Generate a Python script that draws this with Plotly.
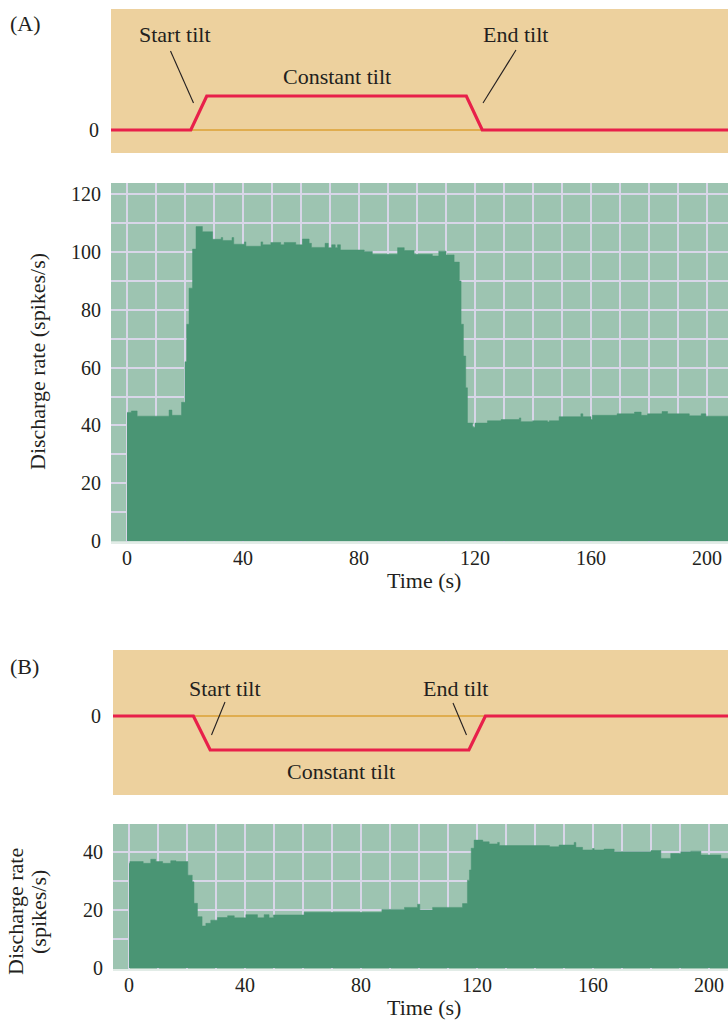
import plotly.graph_objects as go

W, H = 728, 1020

# ---------------- data ----------------
# Panel A: tilt profile (relative units) and discharge rate (spikes/s)
tilt_a_t = [-6, 22, 27.5, 117, 122.5, 208]
tilt_a_v = [0, 0, 1, 1, 0, 0]

time_a = [0, 1.5, 3.5, 14.5, 15.5, 18.8, 20.0, 20.6, 21.4, 22.6, 23.8, 26, 29.5, 32.5,
          33, 36.2, 36.8, 40.5, 41, 46.2, 46.8, 49.6, 53, 54.2, 58.2, 60.5, 62.8, 63.6,
          68.3, 69.4, 70.6, 71.8, 72.6, 73.6, 81.8, 84.6, 93.3, 95.6, 99, 105.3, 107.5,
          110, 112.8, 114.6, 115.2, 116, 116.8, 117.4, 119.2, 120, 124.3, 129, 135.3,
          135.8, 139.8, 145, 145.6, 149, 156.5, 157.2, 160, 160.5, 169, 175, 177.3,
          179.5, 184.5, 186.4, 193.9, 198, 199.6, 207.5]
rate_a = [44.5, 45, 43.2, 45.3, 43.5, 48, 62, 75, 87.5, 101, 108.8, 107, 104.4, 105,
          104, 105, 102.7, 103.5, 102, 103.5, 102.5, 103.3, 102.5, 103.3, 102.5, 104.5, 103, 101.6,
          103, 101.5, 102.5, 101.5, 102.5, 100.7, 100.2, 99.2, 101.5, 100.5, 99.2, 98.6, 100.3,
          99, 96.5, 90, 75, 64, 53, 40.8, 39.4, 40.8, 41.6, 42, 42.6,
          41.3, 41.6, 41.2, 41.6, 43, 44, 43, 42, 43.5, 44, 44.6, 43.5,
          44, 44.8, 44, 43.3, 44, 43.2, 43.2]

# Panel B
tilt_b_t = [-6, 22.2, 28, 117.2, 122.9, 208]
tilt_b_v = [0, 0, -1, -1, 0, 0]

time_b = [0, 0.3, 4.9, 7.5, 9.2, 11.6, 14.4, 16.2, 20.3, 21.8, 22.4, 23.6, 25.2, 26.5,
          28.2, 30.5, 34, 36.3, 40.3, 44.3, 46.6, 48.3, 49.8, 60.4, 87.2, 95, 99.5, 100.3,
          104.7, 115, 116.7, 117.4, 118, 119, 122, 124.2, 127.1, 127.7, 145, 148.3, 153.5,
          154.1, 156.4, 159.8, 160.4, 163.8, 167.3, 180, 183.4, 186.8, 190.3, 193.7, 197.2,
          204.1, 207]
rate_b = [36.1, 36.7, 36.1, 37.5, 36.7, 36.1, 37, 36.7, 32, 29.7, 22.3, 17.7, 14.5, 15.4,
          16.5, 17.4, 18, 17.3, 18.4, 17.3, 18.4, 17.3, 18.3, 19.2, 20.2, 20.9, 22, 20,
          20.9, 22.2, 30.3, 33.8, 41.3, 44.1, 43.5, 42.8, 43.3, 42.2, 41.8, 42.4, 43.3,
          41.6, 40.7, 41.2, 40.7, 41, 40.1, 40.5, 37.8, 39.5, 40.1, 40.3, 39,
          37.8, 37.8]

x_ticks = [0, 40, 80, 120, 160, 200]
ya_ticks = [0, 20, 40, 60, 80, 100, 120]
yb_ticks = [0, 20, 40]

# ---------------- style ----------------
TAN = "#EDD19E"
BG_GREEN = "#9DC4B1"
FILL_GREEN = "#4A9574"
GRID = "#D8D6E8"
RED = "#E8204A"
ORANGE = "#DBA035"
TXT = "#231F20"
FONT = "Liberation Serif"


def px(x):
    return x / W


def py(y):
    return 1 - y / H


fig = go.Figure()

# tilt A
fig.add_trace(go.Scatter(x=[tilt_a_t[0], tilt_a_t[-1]], y=[0, 0], mode="lines",
                         line=dict(color=ORANGE, width=1.5), xaxis="x", yaxis="y",
                         hoverinfo="skip"))
fig.add_trace(go.Scatter(x=tilt_a_t, y=tilt_a_v, mode="lines",
                         line=dict(color=RED, width=3.2), xaxis="x", yaxis="y"))
# chart A
fig.add_trace(go.Scatter(x=time_a, y=rate_a, mode="lines", fill="tozeroy",
                         fillcolor=FILL_GREEN, line=dict(shape="hv", width=0.5, color=FILL_GREEN),
                         xaxis="x2", yaxis="y2"))
# tilt B
fig.add_trace(go.Scatter(x=[tilt_b_t[0], tilt_b_t[-1]], y=[0, 0], mode="lines",
                         line=dict(color=ORANGE, width=1.5), xaxis="x3", yaxis="y3",
                         hoverinfo="skip"))
fig.add_trace(go.Scatter(x=tilt_b_t, y=tilt_b_v, mode="lines",
                         line=dict(color=RED, width=3.2), xaxis="x3", yaxis="y3"))
# chart B
fig.add_trace(go.Scatter(x=time_b, y=rate_b, mode="lines", fill="tozeroy",
                         fillcolor=FILL_GREEN, line=dict(shape="hv", width=0.5, color=FILL_GREEN),
                         xaxis="x4", yaxis="y4"))

tickfont = dict(family=FONT, size=20, color=TXT)

xa_range = [(111 - 127) / 2.9, (728 - 127) / 2.9]
xb_range = [(113 - 129) / 2.9, (728 - 129) / 2.9]

common_off = dict(showgrid=False, zeroline=False, showline=False, showticklabels=False, ticks="",
                  automargin=False)

fig.update_layout(
    width=W, height=H,
    margin=dict(l=0, r=0, t=0, b=0, pad=0, autoexpand=False),
    paper_bgcolor="white", plot_bgcolor="rgba(0,0,0,0)",
    showlegend=False,
    font=dict(family=FONT, color=TXT),
    xaxis=dict(domain=[px(111), 1], range=xa_range, anchor="y", **common_off),
    yaxis=dict(domain=[py(153), py(9)], range=[(130 - 153) / 34, (130 - 9) / 34], anchor="x",
               showgrid=False, zeroline=False, tickvals=[0], ticktext=["0"], ticks="outside",
               ticklen=7, tickcolor="rgba(0,0,0,0)", tickfont=tickfont, automargin=False),
    xaxis2=dict(domain=[px(111), 1], range=xa_range, anchor="y2",
                tickvals=x_ticks, ticks="outside", ticklen=1, tickcolor="rgba(0,0,0,0)",
                ticklabelstandoff=-4,
                tickfont=tickfont, showgrid=True, gridcolor=GRID, gridwidth=2, zeroline=False,
                minor=dict(dtick=10, tick0=0, showgrid=True, gridcolor=GRID, gridwidth=2),
                showline=True, linecolor="#E2ECE7", linewidth=2, automargin=False),
    yaxis2=dict(domain=[py(541.5), py(183)], range=[(541 - 541.5) / 2.89, (541 - 183) / 2.89],
                anchor="x2", tickvals=ya_ticks, ticks="outside", ticklen=5,
                tickcolor="rgba(0,0,0,0)", tickfont=tickfont, showgrid=True, gridcolor=GRID,
                gridwidth=2, zeroline=False, automargin=False,
                minor=dict(dtick=10, tick0=0, showgrid=True, gridcolor=GRID, gridwidth=2)),
    xaxis3=dict(domain=[px(113), 1], range=xb_range, anchor="y3", **common_off),
    yaxis3=dict(domain=[py(795), py(650)], range=[(716 - 795) / 34, (716 - 650) / 34],
                anchor="x3", showgrid=False, zeroline=False, tickvals=[0], ticktext=["0"],
                ticks="outside", ticklen=7, tickcolor="rgba(0,0,0,0)", tickfont=tickfont,
                automargin=False),
    xaxis4=dict(domain=[px(113), 1], range=xb_range, anchor="y4",
                tickvals=x_ticks, ticks="outside", ticklen=1, tickcolor="rgba(0,0,0,0)",
                ticklabelstandoff=-4,
                tickfont=tickfont, showgrid=True, gridcolor=GRID, gridwidth=2, zeroline=False,
                minor=dict(dtick=10, tick0=0, showgrid=True, gridcolor=GRID, gridwidth=2),
                showline=True, linecolor="#E2ECE7", linewidth=2, automargin=False),
    yaxis4=dict(domain=[py(969), py(824)], range=[(968 - 969) / 2.9, (968 - 824) / 2.9],
                anchor="x4", tickvals=yb_ticks, ticks="outside", ticklen=5,
                tickcolor="rgba(0,0,0,0)", tickfont=tickfont, showgrid=True, gridcolor=GRID,
                gridwidth=2, zeroline=False, automargin=False,
                minor=dict(dtick=10, tick0=0, showgrid=True, gridcolor=GRID, gridwidth=2)),
)

# backgrounds
for xr, yr, col in [("x", "y", TAN), ("x2", "y2", BG_GREEN), ("x3", "y3", TAN), ("x4", "y4", BG_GREEN)]:
    fig.add_shape(type="rect", xref=f"{xr} domain", yref=f"{yr} domain", x0=0, x1=1, y0=0, y1=1,
                  fillcolor=col, line=dict(width=0), layer="below")

# leader lines (pixel positions -> paper)
for (x0, y0, x1, y1) in [(170.5, 51, 193.5, 103), (516, 50, 483, 103),
                         (225, 702, 211.5, 735), (453, 703, 466.5, 735)]:
    fig.add_shape(type="line", xref="paper", yref="paper", x0=px(x0), y0=py(y0), x1=px(x1), y1=py(y1),
                  line=dict(color=TXT, width=1.1))

ann_font = dict(family=FONT, size=22, color=TXT)
labels = [
    ("(A)", 25, 23), ("Start tilt", 175, 35), ("Constant tilt", 337, 77), ("End tilt", 515, 35),
    ("Time (s)", 424, 580),
    ("(B)", 24, 666), ("Start tilt", 225, 688), ("End tilt", 455, 688), ("Constant tilt", 341, 771),
    ("Time (s)", 424, 1007),
]
for text, x, y in labels:
    fig.add_annotation(text=text, x=px(x), y=py(y), xref="paper", yref="paper", showarrow=False,
                       xanchor="center", yanchor="middle", font=ann_font)

for text, x, y in [("Discharge rate (spikes/s)", 37, 362), ("Discharge rate", 15, 912),
                   ("(spikes/s)", 38, 912)]:
    fig.add_annotation(text=text, x=px(x), y=py(y), xref="paper", yref="paper", showarrow=False,
                       xanchor="center", yanchor="middle", textangle=-90, font=ann_font)

fig.write_html("out.html", config={"displayModeBar": False},
               post_script="document.body.style.margin='0';document.body.style.overflow='hidden';")
